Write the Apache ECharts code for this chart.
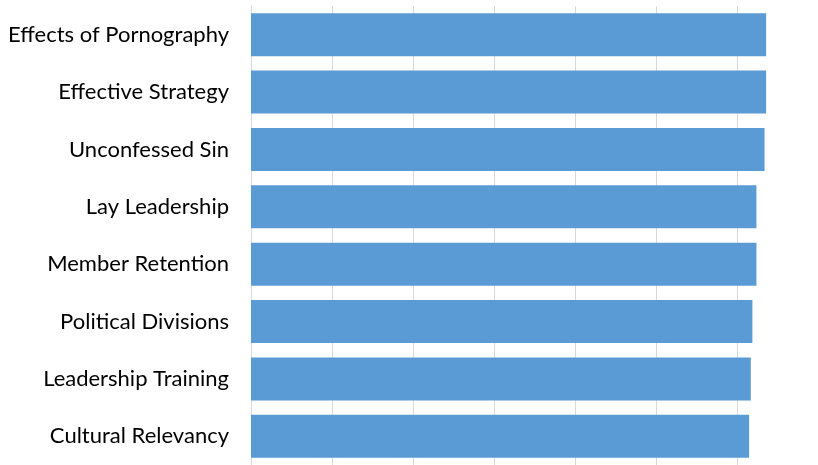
<!DOCTYPE html>
<html>
<head>
<meta charset="utf-8">
<script src="https://cdn.jsdelivr.net/npm/echarts@6/dist/echarts.min.js"></script>
<style>
  html, body { margin: 0; padding: 0; background: #fff; }
  #main { width: 818px; height: 465px; }
</style>
</head>
<body>
<div id="main"></div>
<script>
// categories top to bottom
const categories = [
  'Effects of Pornography',
  'Effective Strategy',
  'Unconfessed Sin',
  'Lay Leadership',
  'Member Retention',
  'Political Divisions',
  'Leadership Training',
  'Cultural Relevancy'
];
const values = [6.36, 6.36, 6.34, 6.24, 6.24, 6.19, 6.17, 6.15];

const chart = echarts.init(document.getElementById('main'));

const option = {
  animation: false,
  grid: { left: 251, top: 6, width: 570.5, bottom: -1 },
  xAxis: {
    type: 'value',
    min: 0,
    max: 7,
    interval: 1,
    axisLabel: { show: false },
    axisLine: { show: false },
    axisTick: { show: false },
    splitLine: { lineStyle: { color: '#d9d9d9', width: 1 } }
  },
  yAxis: {
    type: 'category',
    inverse: true,
    data: categories,
    axisLine: { lineStyle: { color: '#d9d9d9', width: 1 } },
    axisTick: { show: false },
    axisLabel: {
      color: '#000',
      fontFamily: 'Lato',
      fontSize: 22,
      margin: 22
    }
  },
  series: [{
    type: 'bar',
    data: values,
    barCategoryGap: '25%',
    itemStyle: { color: '#5b9bd5' }
  }]
};

chart.setOption(option);
</script>
</body>
</html>
